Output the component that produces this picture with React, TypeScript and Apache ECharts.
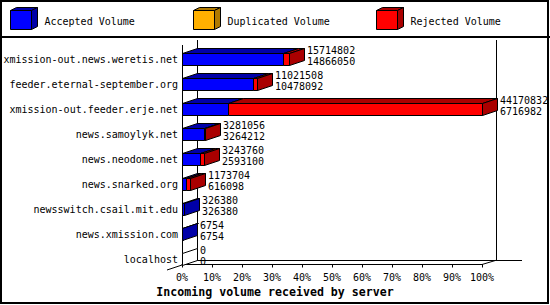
import React, { useEffect, useRef } from 'react';
import * as echarts from 'echarts';

const servers = [
  'xmission-out.news.weretis.net',
  'feeder.eternal-september.org',
  'xmission-out.feeder.erje.net',
  'news.samoylyk.net',
  'news.neodome.net',
  'news.snarked.org',
  'newsswitch.csail.mit.edu',
  'news.xmission.com',
  'localhost',
];
const acceptedVolume = [14866050, 10478092, 6716982, 3264212, 2593100, 616098, 326380, 6754, 0];
const duplicatedVolume = [0, 0, 0, 0, 0, 0, 0, 0, 0];
const rejectedVolume = [848752, 543416, 37453850, 16844, 650660, 557606, 0, 0, 0];
const legendNames = ['Accepted Volume', 'Duplicated Volume', 'Rejected Volume'];
const axisTitle = 'Incoming volume received by server';
const xMin = 0;
const xMax = 100;
const xInterval = 10;

const FONT = '"DejaVu Sans Mono", monospace';
const FRONT = ['#0000ff', '#ffb000', '#ff0000'];
const DARK = ['#0000a8', '#b07a00', '#aa0000'];
const DX = 15;
const DY = 5;
const BAR_H = 12;

const App: React.FC = () => {
  const ref = useRef<HTMLDivElement>(null);

  useEffect(() => {
    if (!ref.current) return;
    const chart = echarts.init(ref.current, undefined, { renderer: 'svg' });

    const totals = servers.map((_, i) => acceptedVolume[i] + duplicatedVolume[i] + rejectedVolume[i]);
    const maxTotal = Math.max(...totals);
    const pct = (v: number) => (v / maxTotal) * 100;
    const data = servers.map((_, i) => [
      i,
      pct(acceptedVolume[i]),
      pct(duplicatedVolume[i]),
      pct(rejectedVolume[i]),
      pct(totals[i]),
    ]);

    const snap = (v: number) => Math.round(v) + 0.5;

    const renderItem = (params: any, api: any) => {
      const i = api.value(0);
      const vals = [api.value(1), api.value(2), api.value(3)];
      const pt0 = api.coord([0, i]);
      const c = pt0[1];
      const top = Math.round(c - BAR_H / 2) + 0.5;
      const bot = top + BAR_H;
      const children: any[] = [];
      let cum = 0;
      let lastDark = '#ffffff';
      let xe = snap(pt0[0]);
      for (let s = 0; s < 3; s++) {
        const from = cum;
        cum += vals[s];
        const xf = snap(api.coord([from, i])[0]);
        const xt = vals[s] > 0 ? Math.max(snap(api.coord([cum, i])[0]), xf + 1) : xf;
        if (vals[s] > 0) {
          lastDark = DARK[s];
          children.push({
            type: 'rect',
            shape: { x: xf, y: top, width: xt - xf, height: BAR_H },
            style: { fill: FRONT[s], stroke: '#000', lineWidth: 1 },
          });
          children.push({
            type: 'polygon',
            shape: { points: [[xf, top], [xt, top], [xt + DX, top - DY], [xf + DX, top - DY]] },
            style: { fill: DARK[s], stroke: '#000', lineWidth: 1 },
          });
        }
        xe = xt;
      }
      children.push({
        type: 'polygon',
        shape: { points: [[xe, top], [xe + DX, top - DY], [xe + DX, bot - DY], [xe, bot]] },
        style: { fill: lastDark, stroke: '#000', lineWidth: 1 },
      });
      const idx = i as number;
      children.push({
        type: 'text',
        style: {
          text: String(totals[idx]) + '\n' + String(acceptedVolume[idx]),
          x: xe + DX + 2.5,
          y: c - 3.5,
          fill: '#000',
          font: '10px ' + FONT,
          lineHeight: 11,
          align: 'left',
          verticalAlign: 'middle',
        },
      });
      return { type: 'group', children };
    };

    const line = (x1: number, y1: number, x2: number, y2: number) => ({
      type: 'line',
      z: 0,
      shape: { x1, y1, x2, y2 },
      style: { stroke: '#000', lineWidth: 1 },
    });

    const legendX = [10.5, 193.5, 376.5];
    const legendEls: any[] = [];
    legendNames.forEach((name, k) => {
      const x = legendX[k];
      const y = 10.5;
      const w = 21;
      const h = 19;
      const dx = 6;
      const dy = 3;
      legendEls.push({
        type: 'polygon',
        z: 1,
        shape: { points: [[x, y], [x + dx, y - dy], [x + w + dx, y - dy], [x + w, y]] },
        style: { fill: DARK[k], stroke: '#000', lineWidth: 1 },
      });
      legendEls.push({
        type: 'polygon',
        z: 1,
        shape: { points: [[x + w, y], [x + w + dx, y - dy], [x + w + dx, y + h - dy], [x + w, y + h]] },
        style: { fill: DARK[k], stroke: '#000', lineWidth: 1 },
      });
      legendEls.push({
        type: 'rect',
        z: 1,
        shape: { x, y, width: w, height: h },
        style: { fill: FRONT[k], stroke: '#000', lineWidth: 1 },
      });
      legendEls.push({
        type: 'text',
        z: 1,
        style: {
          text: name,
          x: x + 34,
          y: 21,
          fill: '#000',
          font: '10px ' + FONT,
          align: 'left',
          verticalAlign: 'middle',
        },
      });
    });

    chart.setOption({
      animation: false,
      backgroundColor: '#ffffff',
      title: {
        text: axisTitle,
        left: 'center',
        top: 286,
        padding: 0,
        textStyle: { fontFamily: FONT, fontSize: 11.6, fontWeight: 'bold', color: '#000' },
      },
      grid: { left: 182, right: 68, top: 46.5, bottom: 33.5, containLabel: false },
      xAxis: {
        type: 'value',
        min: xMin,
        max: xMax,
        interval: xInterval,
        offset: -7,
        axisLine: { show: true, lineStyle: { color: '#000', width: 1 } },
        axisTick: { show: true, length: 3, lineStyle: { color: '#000' } },
        axisLabel: {
          formatter: '{value}%',
          color: '#000',
          fontFamily: FONT,
          fontSize: 10,
          margin: 8,
        },
        splitLine: { show: false },
      },
      yAxis: {
        type: 'category',
        data: servers,
        inverse: true,
        axisLine: { show: false },
        axisTick: { show: false },
        axisLabel: { color: '#000', fontFamily: FONT, fontSize: 10, margin: 4 },
        splitLine: { show: false },
      },
      graphic: [
        {
          type: 'rect',
          z: 0,
          shape: { x: 1, y: 1, width: 547, height: 302 },
          style: { fill: 'none', stroke: '#000', lineWidth: 2 },
        },
        {
          type: 'line',
          z: 0,
          shape: { x1: 0, y1: 37, x2: 550, y2: 37 },
          style: { stroke: '#000', lineWidth: 2 },
        },
        line(182.5, 45, 182.5, 265),
        line(197.5, 40, 197.5, 260.5),
        line(496.5, 40, 496.5, 260.5),
        line(197, 260.5, 522, 260.5),
        line(167, 270, 197, 260),
        line(482, 264.5, 497, 260),
        ...legendEls,
      ],
      series: [
        {
          type: 'custom',
          z: 3,
          renderItem,
          encode: { x: 4, y: 0 },
          data,
          silent: true,
        },
      ],
    });

    return () => {
      chart.dispose();
    };
  }, []);

  return (
    <div
      ref={ref}
      style={{ position: 'fixed', left: 0, top: 0, width: 550, height: 305, background: '#fff' }}
    />
  );
};

export default App;
